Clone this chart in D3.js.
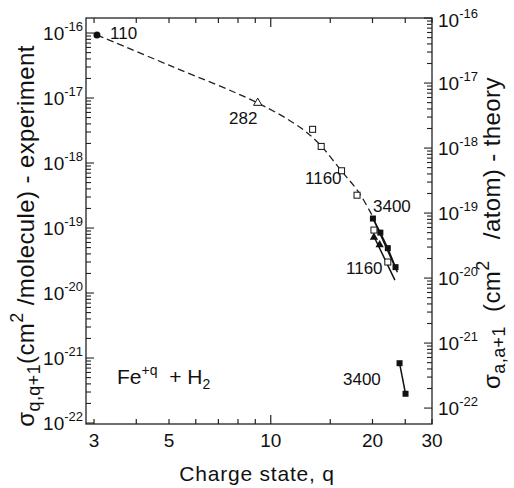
<!DOCTYPE html>
<html>
<head>
<meta charset="utf-8">
<script src="https://cdn.jsdelivr.net/npm/d3@7"></script>
<style>
body { margin: 0; background: #fff; }
text { font-family: "Liberation Sans", Arial, sans-serif; fill: #111; }
</style>
</head>
<body>
<svg id="chart" width="514" height="488"></svg>
<script>
// experiment (left axis, cm^2/molecule)
const q110 = [3.06];
const v110 = [9.3e-17];
const q282 = [9.15];
const v282 = [8.4e-18];
const q1160 = [13.3, 14.1, 16.2, 18.0, 20.2, 22.2];
const v1160 = [3.3e-18, 1.8e-18, 7.6e-19, 3.2e-19, 9.3e-20, 3.0e-20];
const q3400 = [20.06, 21.1, 22.2, 23.4];
const v3400 = [1.4e-19, 8.5e-20, 4.9e-20, 2.5e-20];
const qTri = [20.2, 21.0];
const vTri = [7.2e-20, 5.5e-20];
// dashed guide through experiment
const qFit = [3.06, 5, 9.15, 12.17, 13.94, 16.2, 18.19, 20.0];
const vFit = [9.3e-17, 3.2e-17, 8.4e-18, 3.58e-18, 1.95e-18, 7.5e-19, 3.58e-19, 1.53e-19];
// theory (right axis, cm^2/atom)
const qTh3400 = [20.0, 23.7];
const vTh3400 = [8.7e-20, 1.23e-20];
const qTh1160 = [20.1, 23.3];
const vTh1160 = [4.6e-20, 9.3e-21];
const qThLow = [24.05, 25.05];
const vThLow = [4.9e-22, 1.66e-22];

const xTicks = [3, 4, 5, 6, 7, 8, 9, 10, 15, 20, 25, 30];
const xLabels = [3, 5, 10, 20, 30];
const yDecades = [-16, -17, -18, -19, -20, -21, -22];

const svg = d3.select('#chart');
const pLeft = 86, pRight = 432, pTop = 18, pBottom = 424;

const x = d3.scaleLog().domain([2.84, 30]).range([pLeft, pRight]);
const y = d3.scaleLog().domain([Math.pow(10, -22.015), Math.pow(10, -15.769)]).range([pBottom, pTop]);
const shift = Math.pow(10, 0.23);
const yR = d3.scaleLog().domain(y.domain().map(d => d / shift)).range([pBottom, pTop]);

// frame
svg.append('rect')
    .attr('x', pLeft).attr('y', pTop)
    .attr('width', pRight - pLeft).attr('height', pBottom - pTop)
    .attr('fill', 'none').attr('stroke', '#222').attr('stroke-width', 1.3);

// x ticks, bottom and top, pointing inward
const xt = svg.append('g').attr('stroke', '#222').attr('stroke-width', 1.2);
xTicks.forEach(t => {
    const len = t === 10 ? 9 : 5;
    xt.append('line').attr('x1', x(t)).attr('x2', x(t)).attr('y1', pBottom).attr('y2', pBottom - len);
    xt.append('line').attr('x1', x(t)).attr('x2', x(t)).attr('y1', pTop).attr('y2', pTop + len);
});
svg.append('g').selectAll('text')
    .data(xLabels)
    .enter()
    .append('text')
    .attr('x', d => x(d))
    .attr('y', 447)
    .attr('text-anchor', 'middle')
    .attr('font-size', 19)
    .text(d => d);

// y ticks: decades plus minors, both axes inward
function yTickVals(scale) {
    const vals = [];
    const [lo, hi] = scale.domain();
    yDecades.forEach(e => {
        for (let m = 1; m < 10; m++) {
            const v = m * Math.pow(10, e);
            if (v >= lo && v <= hi) vals.push({ v, major: m === 1 });
        }
    });
    return vals;
}
const yt = svg.append('g').attr('stroke', '#222').attr('stroke-width', 1.1);
yTickVals(y).forEach(t => {
    yt.append('line').attr('x1', pLeft).attr('x2', pLeft + (t.major ? 8 : 5))
        .attr('y1', y(t.v)).attr('y2', y(t.v));
});
yTickVals(yR).forEach(t => {
    yt.append('line').attr('x1', pRight).attr('x2', pRight - (t.major ? 8 : 5))
        .attr('y1', yR(t.v)).attr('y2', yR(t.v));
});

function powLabel(g, xPos, yPos, e, anchor) {
    const t = g.append('text')
        .attr('x', xPos).attr('y', yPos + 7)
        .attr('text-anchor', anchor)
        .attr('font-size', 19);
    t.append('tspan').text('10');
    t.append('tspan').attr('dy', -9).attr('font-size', 13).text(e);
}
const yl = svg.append('g');
yDecades.forEach(e => powLabel(yl, 83, y(Math.pow(10, e)), e, 'end'));
yDecades.forEach(e => powLabel(yl, 438, Math.max(yR(Math.pow(10, e)), pTop + 2), e, 'start'));

// axis titles
svg.append('text')
    .attr('x', 257).attr('y', 481)
    .attr('text-anchor', 'middle')
    .attr('font-size', 21)
    .attr('letter-spacing', 0.8)
    .text('Charge state, q');

const lt = svg.append('text')
    .attr('transform', 'translate(34,236) rotate(-90)')
    .attr('text-anchor', 'middle')
    .attr('font-size', 24)
    .attr('letter-spacing', 0.4);
lt.append('tspan').text('σ');
lt.append('tspan').attr('dy', 6).attr('font-size', 18).text('q,q+1');
lt.append('tspan').attr('dy', -6).text('(cm');
lt.append('tspan').attr('dy', -11).attr('font-size', 18).text('2');
lt.append('tspan').attr('dy', 11).text(' /molecule) - experiment');

const rt = svg.append('text')
    .attr('transform', 'translate(500,233) rotate(-90)')
    .attr('text-anchor', 'middle')
    .attr('font-size', 24)
    .attr('letter-spacing', 0.4)
    .attr('xml:space', 'preserve');
rt.append('tspan').text('σ');
rt.append('tspan').attr('dy', 5).attr('font-size', 18).text('a,a+1');
rt.append('tspan').attr('dy', -5).text('  (cm');
rt.append('tspan').attr('dy', -11).attr('font-size', 18).text('2');
rt.append('tspan').attr('dy', 11).text('   /atom) - theory');

// dashed guide
const fitPts = qFit.map((q, i) => [x(q), y(vFit[i])]);
svg.append('path')
    .attr('d', d3.line().curve(d3.curveCatmullRom.alpha(0.5))(fitPts))
    .attr('fill', 'none').attr('stroke', '#222').attr('stroke-width', 1.3)
    .attr('stroke-dasharray', '7,4');

// theory lines
const lineGen = d3.line();
[[qTh3400, vTh3400], [qTh1160, vTh1160], [qThLow, vThLow]].forEach(([qs, vs]) => {
    svg.append('path')
        .attr('d', lineGen(qs.map((q, i) => [x(q), yR(vs[i])])))
        .attr('fill', 'none').attr('stroke', '#111').attr('stroke-width', 1.5);
});
// experiment 3400 connecting line
svg.append('path')
    .attr('d', lineGen(q3400.map((q, i) => [x(q), y(v3400[i])])))
    .attr('fill', 'none').attr('stroke', '#111').attr('stroke-width', 1.4);

// markers
svg.append('g').selectAll('circle')
    .data(q110)
    .enter().append('circle')
    .attr('cx', d => x(d)).attr('cy', (d, i) => y(v110[i]))
    .attr('r', 3.5).attr('fill', '#111');

const tri = d3.symbol().type(d3.symbolTriangle).size(30);
svg.append('g').selectAll('path')
    .data(q282)
    .enter().append('path')
    .attr('d', tri)
    .attr('transform', (d, i) => `translate(${x(d)},${y(v282[i])})`)
    .attr('fill', '#fff').attr('stroke', '#111').attr('stroke-width', 1);
svg.append('g').selectAll('path')
    .data(qTri)
    .enter().append('path')
    .attr('d', tri)
    .attr('transform', (d, i) => `translate(${x(d)},${y(vTri[i])})`)
    .attr('fill', '#111');

const sq = 6;
svg.append('g').selectAll('rect')
    .data(q1160)
    .enter().append('rect')
    .attr('x', d => x(d) - sq / 2).attr('y', (d, i) => y(v1160[i]) - sq / 2)
    .attr('width', sq).attr('height', sq)
    .attr('fill', '#fff').attr('stroke', '#111').attr('stroke-width', 1);
svg.append('g').selectAll('rect')
    .data(q3400)
    .enter().append('rect')
    .attr('x', d => x(d) - sq / 2).attr('y', (d, i) => y(v3400[i]) - sq / 2)
    .attr('width', sq).attr('height', sq)
    .attr('fill', '#111');
svg.append('g').selectAll('rect')
    .data(qThLow)
    .enter().append('rect')
    .attr('x', d => x(d) - sq / 2).attr('y', (d, i) => yR(vThLow[i]) - sq / 2)
    .attr('width', sq).attr('height', sq)
    .attr('fill', '#111');

// point labels
const notes = [
    ['110', 110, 39],
    ['282', 229, 124],
    ['1160', 305, 184],
    ['3400', 373, 212],
    ['1160', 346, 274],
    ['3400', 343, 385]
];
svg.append('g').selectAll('text')
    .data(notes)
    .enter().append('text')
    .attr('x', d => d[1]).attr('y', d => d[2])
    .attr('font-size', 17)
    .text(d => d[0]);

const fe = svg.append('text').attr('x', 117).attr('y', 384).attr('font-size', 21).attr('xml:space', 'preserve');
fe.append('tspan').text('Fe');
fe.append('tspan').attr('dy', -9).attr('font-size', 14).text('+q');
fe.append('tspan').attr('dy', 9).text('  + H');
fe.append('tspan').attr('dy', 5).attr('font-size', 14).text('2');
</script>
</body>
</html>
